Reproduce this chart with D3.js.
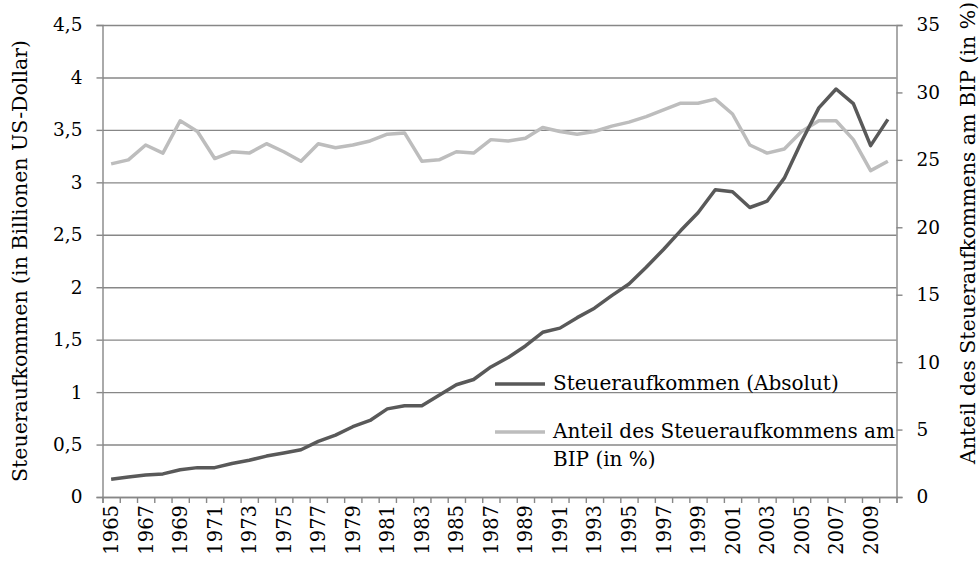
<!DOCTYPE html>
<html>
<head>
<meta charset="utf-8">
<script src="https://cdn.jsdelivr.net/npm/d3@7"></script>
<style>
  body { margin: 0; background: #fff; }
  svg { display: block; font-family: "DejaVu Serif", serif; }
  .tick text { font-size: 18.5px; fill: #000; }
  .x-labels .tick text { font-size: 19.5px; }
  .axis-title { font-size: 20.5px; fill: #000; }
  .legend text { font-size: 20px; fill: #000; }
</style>
</head>
<body>
<svg width="979" height="561"></svg>
<script>
  const years = d3.range(1965, 2011);
  const yearLabels = years.filter((y) => y % 2 === 1);

  // Steueraufkommen in Billionen US-Dollar (linke Achse)
  const taxAbsolute = [
    0.17, 0.19, 0.21, 0.22, 0.26, 0.28, 0.28, 0.32, 0.35, 0.39,
    0.42, 0.45, 0.53, 0.59, 0.67, 0.73, 0.84, 0.87, 0.87, 0.97,
    1.07, 1.12, 1.24, 1.33, 1.44, 1.57, 1.61, 1.71, 1.80, 1.92,
    2.03, 2.19, 2.36, 2.54, 2.71, 2.93, 2.91, 2.76, 2.82, 3.04,
    3.39, 3.71, 3.89, 3.75, 3.35, 3.60
  ];

  // Anteil am BIP in % (rechte Achse)
  const taxShareGdp = [
    24.7, 25.0, 26.1, 25.5, 27.9, 27.1, 25.1, 25.6, 25.5, 26.2,
    25.6, 24.9, 26.2, 25.9, 26.1, 26.4, 26.9, 27.0, 24.9, 25.0,
    25.6, 25.5, 26.5, 26.4, 26.6, 27.4, 27.1, 26.9, 27.1, 27.5,
    27.8, 28.2, 28.7, 29.2, 29.2, 29.5, 28.4, 26.1, 25.5, 25.8,
    27.1, 27.9, 27.9, 26.5, 24.2, 24.9
  ];

  const leftTicks = [0, 0.5, 1, 1.5, 2, 2.5, 3, 3.5, 4, 4.5];
  const rightTicks = [0, 5, 10, 15, 20, 25, 30, 35];

  const seriesNames = [
    ["Steueraufkommen (Absolut)"],
    ["Anteil des Steueraufkommens am", "BIP (in %)"]
  ];
  const leftTitle = "Steueraufkommen (in Billionen US-Dollar)";
  const rightTitle = "Anteil des Steueraufkommens am BIP (in %)";

(function (d3) {
  "use strict";

  const svg = d3.select("svg");
  const width = +svg.attr("width");
  const height = +svg.attr("height");

  const margin = { top: 25, right: 82.5, bottom: 64, left: 102.5 };
  const innerWidth = width - margin.left - margin.right;
  const innerHeight = height - margin.top - margin.bottom;

  const gridColor = "#878787";
  const darkColor = "#595959";
  const lightColor = "#bdbdbd";

  const de = d3.formatLocale({ decimal: ",", thousands: ".", grouping: [3], currency: ["", " €"] });
  const fmt = de.format("~g");

  const xScale = d3.scaleBand().domain(years).range([0, innerWidth]).padding(0);
  const xIndex = d3.scaleLinear().domain([0, years.length]).range([0, innerWidth]);
  const yLeft = d3.scaleLinear().domain([0, 4.5]).range([innerHeight, 0]);
  const yRight = d3.scaleLinear().domain([0, 35]).range([innerHeight, 0]);

  const g = svg.append("g").attr("transform", `translate(${margin.left},${margin.top})`);

  // gridlines
  const gridG = g.append("g")
    .call(d3.axisLeft(yLeft).tickValues(leftTicks).tickSize(-innerWidth).tickFormat(""));
  gridG.select(".domain").remove();
  gridG.selectAll("line").attr("stroke", gridColor).attr("stroke-width", 1.4);

  const yLeftG = g.append("g")
    .call(d3.axisLeft(yLeft).tickValues(leftTicks).tickSize(6).tickPadding(14).tickFormat(fmt));
  const yRightG = g.append("g")
    .attr("transform", `translate(${innerWidth},0)`)
    .call(d3.axisRight(yRight).tickValues(rightTicks).tickSize(6).tickPadding(14));

  const xTickG = g.append("g")
    .attr("transform", `translate(0,${innerHeight})`)
    .call(d3.axisBottom(xIndex).tickValues(d3.range(years.length + 1)).tickSize(6).tickFormat(""));

  const xLabelG = g.append("g")
    .attr("class", "x-labels")
    .attr("transform", `translate(0,${innerHeight})`)
    .call(d3.axisBottom(xScale).tickValues(yearLabels).tickSize(0));
  xLabelG.select(".domain").remove();
  xLabelG.selectAll("text")
    .attr("transform", "rotate(-90)")
    .attr("text-anchor", "end")
    .attr("x", -8)
    .attr("y", 0)
    .attr("dy", "0.36em");

  [yLeftG, yRightG, xTickG].forEach((a) => {
    a.selectAll(".domain, line").attr("stroke", gridColor).attr("stroke-width", 1.4);
    a.attr("font-family", null).attr("font-size", null);
  });
  xLabelG.attr("font-family", null).attr("font-size", null);

  const lineOf = (values, yScale) =>
    d3.line()
      .x((d, i) => xScale(years[i]) + xScale.bandwidth() / 2)
      .y((d) => yScale(d))(values);

  g.append("path")
    .attr("d", lineOf(taxShareGdp, yRight))
    .attr("fill", "none")
    .attr("stroke", lightColor)
    .attr("stroke-width", 3.5)
    .attr("stroke-linejoin", "round");

  g.append("path")
    .attr("d", lineOf(taxAbsolute, yLeft))
    .attr("fill", "none")
    .attr("stroke", darkColor)
    .attr("stroke-width", 3.5)
    .attr("stroke-linejoin", "round");

  // axis titles
  svg.append("text")
    .attr("class", "axis-title")
    .attr("transform", `translate(27,${margin.top + innerHeight / 2}) rotate(-90)`)
    .attr("text-anchor", "middle")
    .text(leftTitle);

  svg.append("text")
    .attr("class", "axis-title")
    .attr("transform", `translate(975,464) rotate(-90)`)
    .attr("text-anchor", "start")
    .text(rightTitle);

  // legend
  const legend = svg.append("g").attr("class", "legend").attr("transform", "translate(495,384)");
  const items = legend.selectAll("g")
    .data(seriesNames)
    .enter()
    .append("g")
    .attr("transform", (d, i) => `translate(0,${i * 48})`);

  items.append("line")
    .attr("x1", 0)
    .attr("x2", 50)
    .attr("stroke", (d, i) => (i === 0 ? darkColor : lightColor))
    .attr("stroke-width", 3.5);

  items.append("text")
    .attr("x", 58)
    .attr("y", 6)
    .selectAll("tspan")
    .data((d) => d)
    .enter()
    .append("tspan")
    .attr("x", 58)
    .attr("dy", (d, i) => (i === 0 ? 0 : 28))
    .text((d) => d);
})(d3);
</script>
</body>
</html>
